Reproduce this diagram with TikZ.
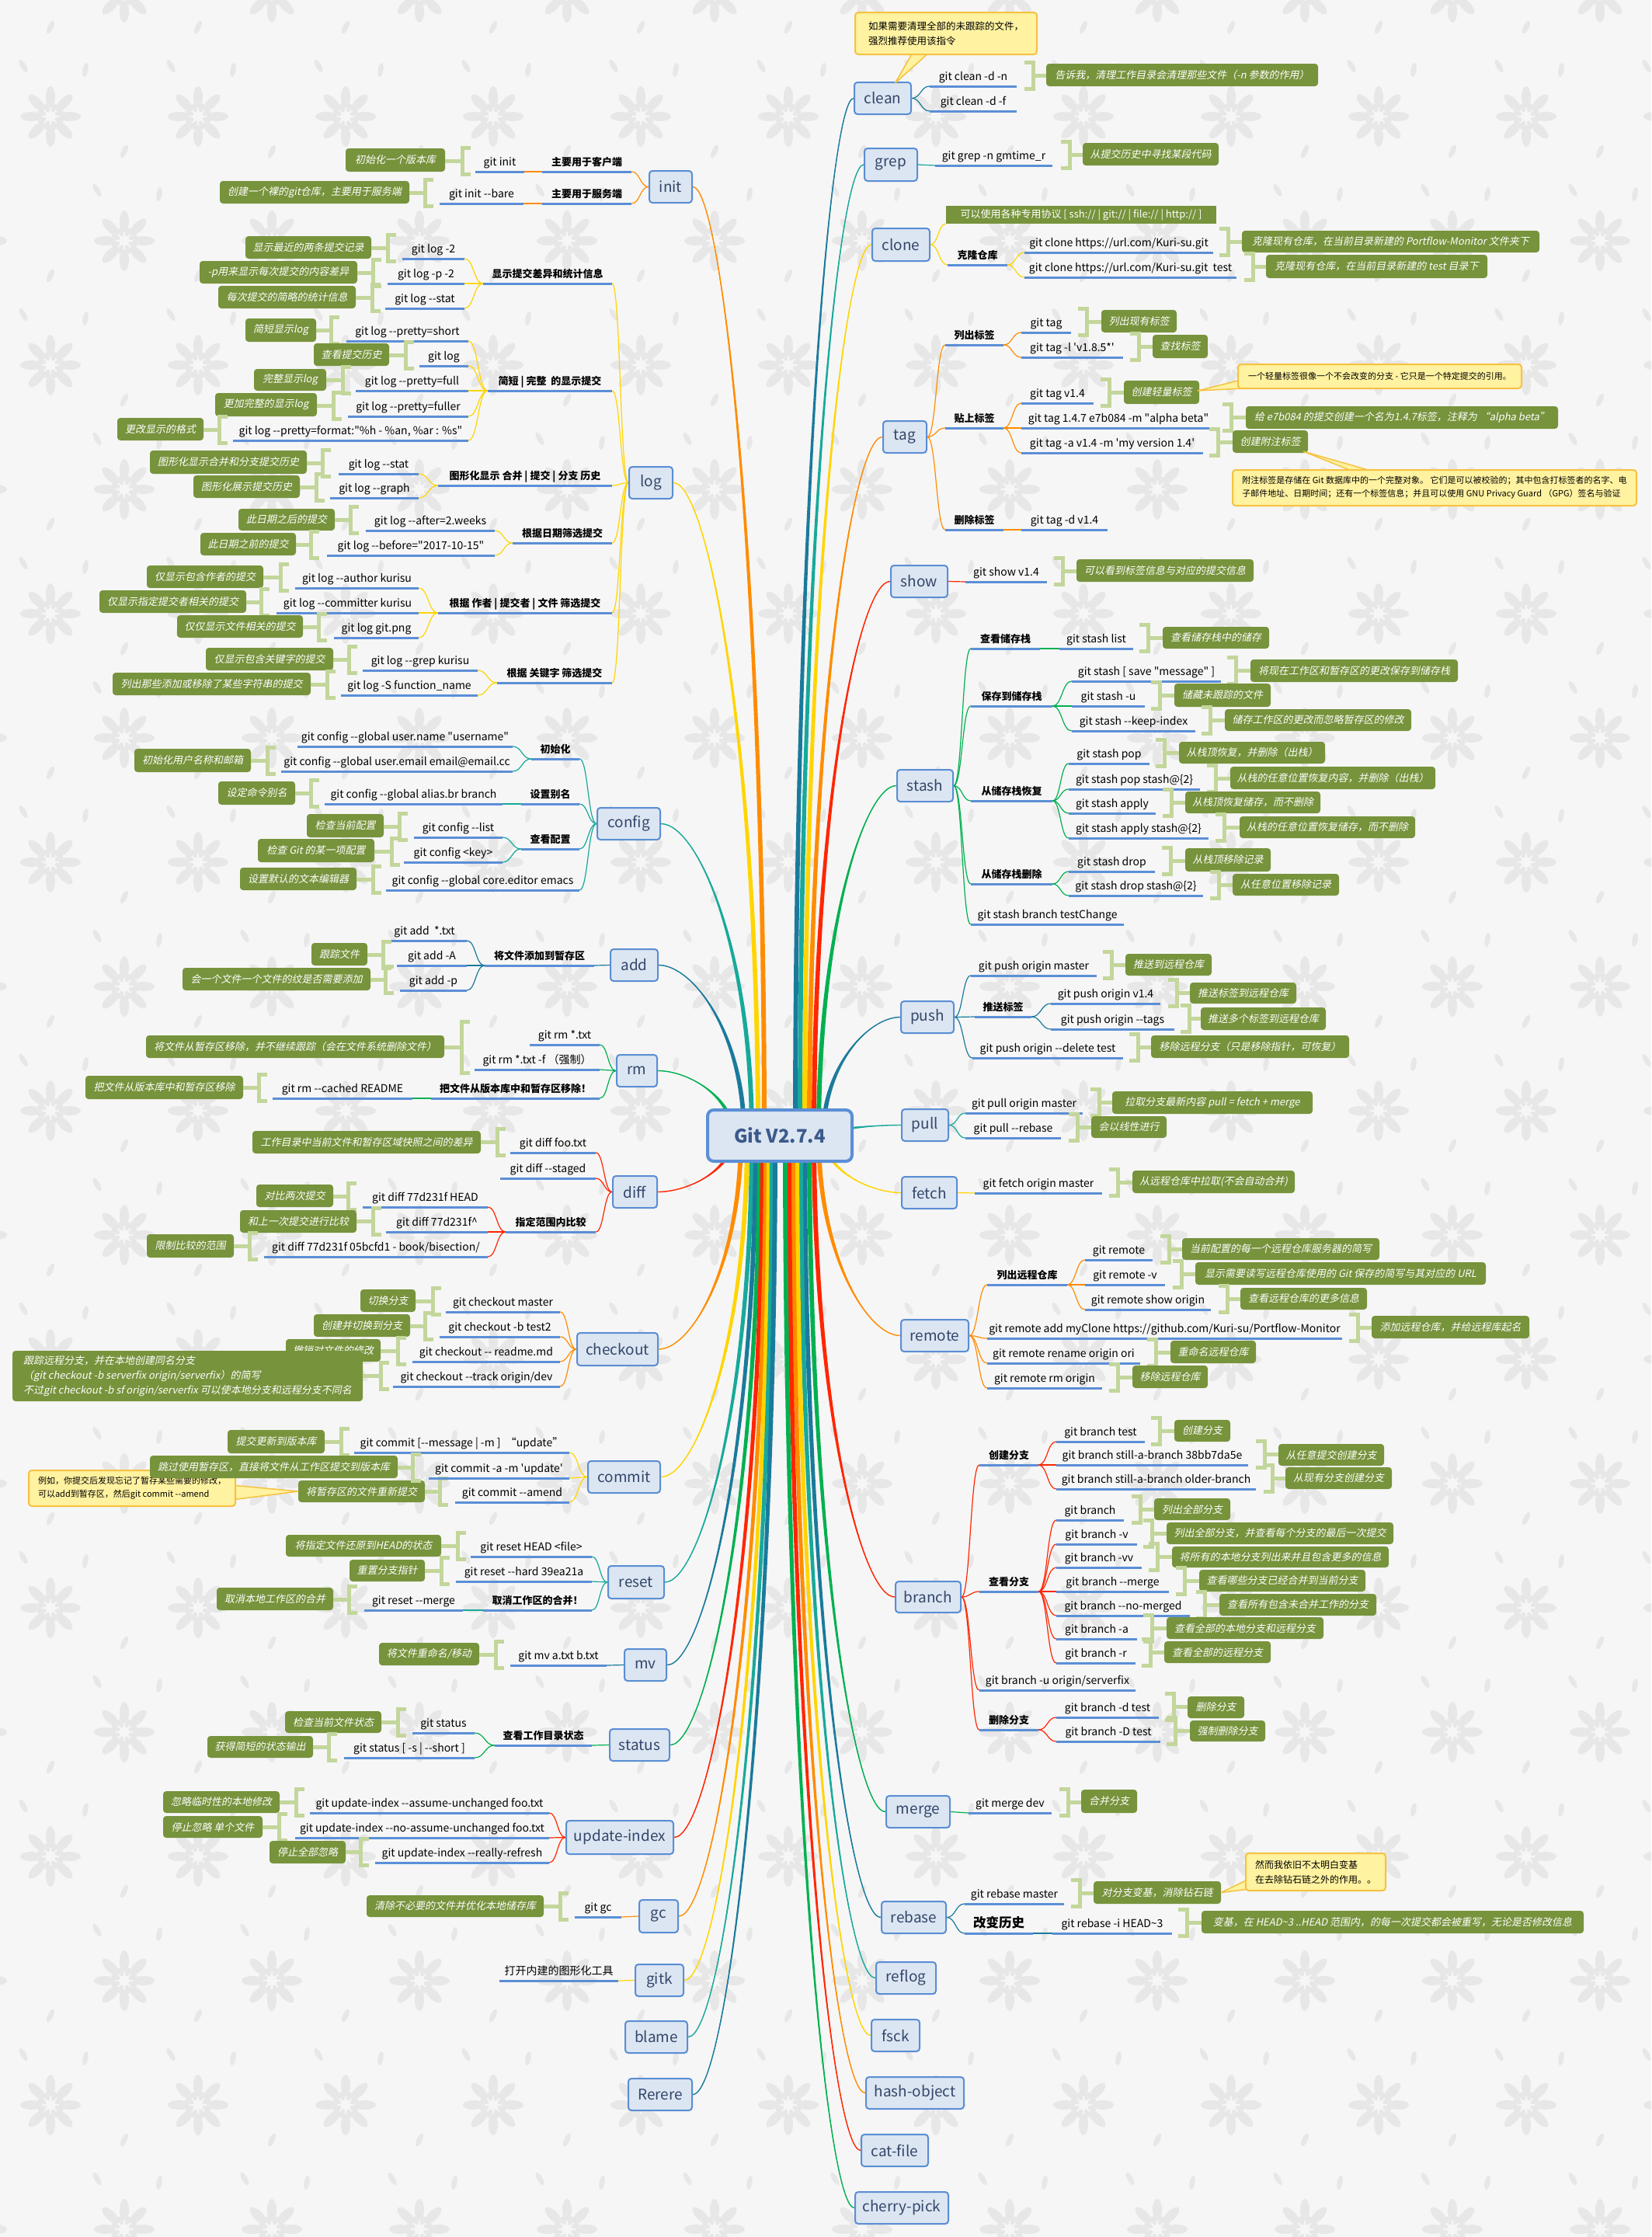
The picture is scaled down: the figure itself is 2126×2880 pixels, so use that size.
\documentclass[tikz,border=0pt]{standalone}
\usepackage{fontspec}
\newfontfamily\mainf{Noto Sans CJK SC}
\newfontfamily\itf{Noto Sans CJK SC}[FakeSlant=0.2]
\usetikzlibrary{calc}
\pgfdeclarelayer{back}
\pgfdeclarelayer{bg}
\pgfsetlayers{back,bg,main}
\definecolor{bgc}{HTML}{F6F6F6}
\definecolor{pat}{HTML}{E7E7E7}
\definecolor{ulb}{HTML}{5B8FD7}
\definecolor{gfill}{HTML}{77933C}
\definecolor{brg}{HTML}{C3D69B}
\definecolor{boxf}{HTML}{DCE6F2}
\definecolor{boxb}{HTML}{5A8ED4}
\definecolor{boxt}{HTML}{34466A}
\definecolor{rootb}{HTML}{5B8FD5}
\definecolor{roott}{HTML}{3B5A8C}
\definecolor{yfill}{HTML}{FFF2A0}
\definecolor{ybord}{HTML}{F5C242}
\definecolor{cor}{HTML}{FF8C00}
\definecolor{cye}{HTML}{FFD500}
\definecolor{cte}{HTML}{17A99A}
\definecolor{cdt}{HTML}{1A7A9C}
\definecolor{cgr}{HTML}{00B050}
\definecolor{cre}{HTML}{FF2600}
\newcommand\fsA{\fontsize{14}{16}\selectfont}
\newcommand\fsB{\fontsize{13}{16}\selectfont}
\newcommand\TP[6][tp]{\node[#1,minimum width={#4-#3}] (#2) at ({(#3+#4)/2},#5) {#6};\draw[ul] (#2.south west) -- (#2.south east);}
\newcommand\GN[6]{\node[gn,minimum width={#3-#2},minimum height={#5-#4}] (#1) at ({(#2+#3)/2},{(#4+#5)/2}) {#6};}
\newcommand\LB[6]{\node[lone,minimum width=#4,minimum height=#5] (#1) at (#2,#3) {#6};}
\newcommand\BLc[3]{\draw[br] ({#1},{#2-31}) -- ({#1-11},{#2-31}) -- ({#1-11},{#2+3}) -- ({#1},{#2+3}); \draw[br] ({#1-11},{#2-14}) -- ({#3},{#2-14});}
\newcommand\BRc[3]{\draw[br] ({#1},{#2-31}) -- ({#1+11},{#2-31}) -- ({#1+11},{#2+3}) -- ({#1},{#2+3}); \draw[br] ({#1+11},{#2-14}) -- ({#3},{#2-14});}
\newcommand\CL[3]{\draw[#1,cn] let \p1=(#2), \p2=(#3) in (\p1) .. controls ($(\p1)!0.5!(\x2,\y1)$) and ($(\p2)!0.5!(\x1,\y2)$) .. (\p2);}
\newcommand\FanL[3]{\foreach \cc in {#3}{\CL{#1}{#2}{\cc.south east}}}
\newcommand\FanR[3]{\foreach \cc in {#3}{\CL{#1}{#2}{\cc.south west}}}
\newcommand\CB[7]{\fill[#1] ($(root.center)+({#2-#6},{-#7})$) .. controls +(0,#4) and +(#5,0) .. (#3) .. controls +(#5,0) and +(0,#4) .. ($(root.center)+({#2+#6},{#7})$) -- cycle; \draw[#1,line width=1.4pt] ($(root.center)+(#2,0)$) .. controls +(0,#4) and +(#5,0) .. (#3);}
\tikzset{
 tp/.style={inner xsep=0pt,inner ysep=4pt,anchor=south,text height=11pt,text depth=3pt,font=\mainf\fsA},
 tb/.style={tp,font=\mainf\bfseries\fsB},
 ul/.style={draw=ulb,line width=3pt},
 gn/.style={fill=gfill,rounded corners=4pt,text=white,font=\itf\fsB,inner sep=0pt},
 lone/.style={draw=boxb,line width=2pt,fill=boxf,rounded corners=4pt,font=\mainf\fontsize{19}{22}\selectfont,text=boxt,inner sep=0pt},
 br/.style={draw=brg,line width=5pt},
 cn/.style={line width=1.2pt},
 yc/.style={fill=yfill,draw=ybord,line width=2pt,rounded corners=4pt,align=left,inner sep=0pt,text=black},
 yp/.style={fill=yfill,draw=ybord,line width=1.5pt,line join=round},
}
\begin{document}
\begin{tikzpicture}[x=1pt,y=-1pt]
\begin{pgfonlayer}{back}
\fill[bgc] (0,0) rectangle (2126,2880);
\begin{scope}
\clip (0,0) rectangle (2126,2880);
\foreach \r in {0,...,18}{
 \foreach \c in {0,...,11}{
  \pgfmathsetmacro\cx{\c*190+mod(\r,2)*95-30}
  \pgfmathsetmacro\cy{\r*160-10}
  \foreach \a in {0,45,...,315}{
   \fill[pat,rotate around={\a:(\cx,\cy)}] ({\cx+25},\cy) ellipse (14 and 6);
   \fill[pat,rotate around={\a+22.5:(\cx,\cy)}] ({\cx+12},\cy) ellipse (6 and 3);
  }
  \fill[pat,rotate around={65:({\cx+95},{\cy+45})}] ({\cx+95},{\cy+45}) ellipse (9 and 3.5);
  \fill[pat,rotate around={-60:({\cx+60},{\cy+95})}] ({\cx+60},{\cy+95}) ellipse (9 and 3.5);
  \fill[pat,rotate around={80:({\cx+140},{\cy+100})}] ({\cx+140},{\cy+100}) ellipse (9 and 3.5);
 }
}
\end{scope}
\end{pgfonlayer}
\useasboundingbox (0,0) rectangle (2126,2880);

\node[draw=rootb,line width=4pt,fill=boxf,rounded corners=8pt,minimum width=186,minimum height=66,font=\mainf\bfseries\fontsize{24}{28}\selectfont,text=roott] (root) at (1004,1462) {Git V2.7.4};

% level-1 boxes
\LB{init}{863.5}{240.5}{55}{41}{init}
\LB{log}{838}{621.5}{56}{41}{log}
\LB{config}{809.5}{1060.5}{81}{41}{config}
\LB{add}{816.5}{1242.5}{61}{41}{add}
\LB{rm}{820}{1378.5}{52}{41}{rm}
\LB{diff}{817.5}{1534.5}{57}{41}{diff}
\LB{checkout}{795}{1737}{104}{42}{checkout}
\LB{commit}{803.5}{1901.5}{93}{41}{commit}
\LB{reset}{819}{2037}{72}{42}{reset}
\LB{mv}{831}{2143.5}{54}{41}{mv}
\LB{status}{823.5}{2246.5}{77}{41}{status}
\LB{updidx}{798}{2365.5}{138}{43}{update-index}
\LB{gc}{848}{2467}{50}{42}{gc}
\LB{gitk}{849}{2549.5}{62}{41}{gitk}
\LB{blame}{845}{2622.5}{80}{41}{blame}
\LB{rerere}{850}{2696.5}{82}{41}{Rerere}
\LB{clean}{1136.5}{126.5}{73}{41}{clean}
\LB{grep}{1147}{212}{68}{42}{grep}
\LB{clone}{1160}{315}{74}{42}{clone}
\LB{tag}{1165}{562.5}{56}{41}{tag}
\LB{show}{1183.5}{748.5}{73}{41}{show}
\LB{stash}{1191}{1011.5}{72}{41}{stash}
\LB{push}{1194}{1309.5}{68}{41}{push}
\LB{pull}{1191}{1448.5}{60}{41}{pull}
\LB{fetch}{1196.5}{1535.5}{71}{41}{fetch}
\LB{remote}{1203.5}{1719.5}{87}{41}{remote}
\LB{branch}{1195}{2056}{84}{40}{branch}
\LB{merge}{1182}{2332.5}{82}{41}{merge}
\LB{rebase}{1176.5}{2468.5}{83}{41}{rebase}
\LB{reflog}{1166.5}{2546.5}{77}{41}{reflog}
\LB{fsck}{1153}{2620.5}{62}{41}{fsck}
\LB{hashobj}{1178}{2694.5}{126}{41}{hash-object}
\LB{catfile}{1152}{2768.5}{86}{41}{cat-file}
\LB{cherry}{1161}{2842.5}{120}{41}{cherry-pick}

% ---------- init
\TP[tb]{i1}{698}{813}{221}{主要用于客户端}
\TP{i1a}{612}{675}{221}{git init}
\GN{i1an}{445}{573}{191}{221}{初始化一个版本库}
\BLc{606}{221}{573}
\TP[tb]{i2}{698}{813}{262}{主要用于服务端}
\TP{i2a}{566}{674}{262}{git init --bare}
\GN{i2an}{283}{527}{233}{262}{创建一个裸的git仓库，主要用于服务端}
\BLc{558}{262}{527}

% ---------- log
\TP[tb]{l1}{622}{788}{365}{显示提交差异和统计信息}
\TP{l1a}{518}{598}{333}{git log -2}
\GN{l1an}{316}{478}{304}{333}{显示最近的两条提交记录}
\BLc{510}{333}{478}
\TP{l1b}{499}{598}{365}{git log -p -2}
\GN{l1bn}{257}{460}{336}{365}{-p用来显示每次提交的内容差异}
\BLc{491}{365}{460}
\TP{l1c}{496}{598}{397}{git log --stat}
\GN{l1cn}{281}{458}{368}{397}{每次提交的简略的统计信息}
\BLc{490}{397}{458}
\TP[tb]{l2}{628}{788}{503}{简短 | 完整 \ 的显示提交}
\TP{l2a}{446}{603}{439}{git log --pretty=short}
\GN{l2an}{316}{407}{410}{440}{简短显示log}
\BLc{437}{439}{407}
\TP{l2b}{540}{603}{471}{git log}
\GN{l2bn}{404}{501}{442}{471}{查看提交历史}
\BLc{533}{471}{501}
\TP{l2c}{458}{603}{503}{git log --pretty=full}
\GN{l2cn}{327}{420}{475}{503}{完整显示log}
\BLc{452}{503}{420}
\TP{l2d}{448}{603}{536}{git log --pretty=fuller}
\GN{l2dn}{277}{408}{506}{536}{更加完整的显示log}
\BLc{440}{536}{408}
\TP{l2e}{300}{603}{567}{git log --pretty=format:"\%h - \%an, \%ar : \%s"}
\GN{l2en}{151}{262}{538}{567}{更改显示的格式}
\BLc{293}{567}{262}
\TP[tb]{l3}{564}{788}{625}{图形化显示 合并 | 提交 | 分支 历史}
\TP{l3a}{436}{539}{610}{git log --stat}
\GN{l3an}{193}{395}{580}{610}{图形化显示合并和分支提交历史}
\BLc{426}{610}{395}
\TP{l3b}{425}{539}{641}{git log --graph}
\GN{l3bn}{249}{386}{612}{641}{图形化展示提交历史}
\BLc{418}{641}{386}
\TP[tb]{l4}{660}{788}{699}{根据日期筛选提交}
\TP{l4a}{471}{637}{683}{git log --after=2.weeks}
\GN{l4an}{307}{431}{655}{683}{此日期之后的提交}
\BLc{462}{683}{431}
\TP{l4b}{421}{637}{715}{git log --before="2017-10-15"}
\GN{l4bn}{258}{381}{686}{715}{此日期之前的提交}
\BLc{411}{715}{381}
\TP[tb]{l5}{564}{788}{789}{根据 作者 | 提交者 | 文件 筛选提交}
\TP{l5a}{380}{539}{757}{git log --author kurisu}
\GN{l5an}{189}{339}{728}{757}{仅显示包含作者的提交}
\BLc{372}{757}{339}
\TP{l5b}{356}{539}{789}{git log --committer kurisu}
\GN{l5bn}{128}{317}{760}{789}{仅显示指定提交者相关的提交}
\BLc{347}{789}{317}
\TP{l5c}{430}{539}{821}{git log git.png}
\GN{l5cn}{228}{390}{792}{821}{仅仅显示文件相关的提交}
\BLc{421}{821}{390}
\TP[tb]{l6}{640}{788}{879}{根据 关键字 筛选提交}
\TP{l6a}{467}{615}{863}{git log --grep kurisu}
\GN{l6an}{265}{429}{834}{863}{仅显示包含关键字的提交}
\BLc{460}{863}{429}
\TP{l6b}{439}{615}{895}{git log -S function\_name}
\GN{l6bn}{145}{400}{866}{895}{列出那些添加或移除了某些字符串的提交}
\BLc{432}{895}{400}

% ---------- config
\TP[tb]{c1}{684}{746}{977}{初始化}
\TP{c1a}{383}{660}{961}{git config --global user.name "username"}
\TP{c1b}{362}{660}{993}{git config --global user.email email@email.cc}
\GN{c1bn}{173}{323}{964}{994}{初始化用户名称和邮箱}
\BLc{355}{993}{323}
\TP[tb]{c2}{671}{746}{1035}{设置别名}
\TP{c2a}{418}{647}{1035}{git config --global alias.br branch}
\GN{c2an}{281}{380}{1006}{1036}{设定命令别名}
\BLc{411}{1035}{380}
\TP[tb]{c3}{671}{746}{1093}{查看配置}
\TP{c3a}{533}{647}{1078}{git config --list}
\GN{c3an}{395}{494}{1048}{1078}{检查当前配置}
\BLc{525}{1078}{494}
\TP{c3b}{520}{647}{1110}{git config <key>}
\GN{c3bn}{332}{482}{1080}{1110}{检查 Git 的某一项配置}
\BLc{515}{1110}{482}
\TP{c4}{497}{746}{1146}{git config --global core.editor emacs}
\GN{c4n}{309}{459}{1117}{1146}{设置默认的文本编辑器}
\BLc{491}{1146}{459}

% ---------- add
\TP[tb]{a1}{624}{765}{1243}{将文件添加到暂存区}
\TP{a1a}{492}{601}{1211}{git add \ *.txt}
\TP{a1b}{511}{601}{1243}{git add -A}
\GN{a1bn}{401}{473}{1214}{1243}{跟踪文件}
\BLc{504}{1243}{473}
\TP{a1c}{515}{601}{1275}{git add -p}
\GN{a1cn}{235}{477}{1246}{1275}{会一个文件一个文件的纹是否需要添加}
\BLc{507}{1275}{477}

% ---------- rm
\TP{r1}{682}{772}{1345}{git rm *.txt}
\TP{r2}{611}{772}{1377}{git rm *.txt -f （强制）}
\GN{r1n}{188}{572}{1333}{1362}{将文件从暂存区移除，并不继续跟踪（会在文件系统删除文件）}
\draw[br] (605,1315) -- (594,1315) -- (594,1381) -- (605,1381);
\draw[br] (594,1348) -- (572,1348);
\TP[tb]{r3}{555}{772}{1414}{把文件从版本库中和暂存区移除！}
\TP{r3a}{351}{531}{1414}{git rm --cached README}
\GN{r3an}{110}{313}{1385}{1415}{把文件从版本库中和暂存区移除}
\BLc{344}{1414}{313}

% ---------- diff
\TP{d1}{657}{767}{1484}{git diff foo.txt}
\GN{d1n}{325}{619}{1456}{1485}{工作目录中当前文件和暂存区域快照之间的差异}
\BLc{651}{1484}{619}
\TP{d2}{644}{767}{1517}{git diff --staged}
\TP[tb]{d3}{651}{767}{1586}{指定范围内比较}
\TP{d3a}{467}{628}{1554}{git diff 77d231f HEAD}
\GN{d3an}{330}{429}{1525}{1554}{对比两次提交}
\BLc{459}{1554}{429}
\TP{d3b}{497}{628}{1586}{git diff 77d231f\textasciicircum}
\GN{d3bn}{309}{459}{1558}{1587}{和上一次提交进行比较}
\BLc{491}{1586}{459}
\TP{d3c}{340}{628}{1618}{git diff 77d231f 05bcfd1 - book/bisection/}
\GN{d3cn}{189}{301}{1589}{1619}{限制比较的范围}
\BLc{332}{1618}{301}

% ---------- checkout
\TP{k1}{574}{721}{1689}{git checkout master}
\GN{k1n}{464}{535}{1660}{1689}{切换分支}
\BLc{568}{1689}{535}
\TP{k2}{566}{721}{1721}{git checkout -b test2}
\GN{k2n}{404}{528}{1692}{1721}{创建并切换到分支}
\BLc{558}{1721}{528}
\TP{k3}{531}{721}{1753}{git checkout -- readme.md}
\GN{k3n}{368}{490}{1724}{1753}{撤销对文件的修改}
\BLc{523}{1753}{490}
\TP{k4}{506}{721}{1785}{git checkout --track origin/dev}
\node[gn,minimum width=451,minimum height=65,align=left,font=\itf\fontsize{13}{19}\selectfont] (k4n) at (241.5,1771.5) {跟踪远程分支，并在本地创建同名分支\\（git checkout -b serverfix origin/serverfix）的简写\\不过git checkout -b sf origin/serverfix 可以使本地分支和远程分支不同名};
\BLc{501}{1785}{467}

% ---------- commit
\TP{m3}{586}{733}{1934}{git commit --amend}
\GN{m3n}{384}{547}{1906}{1934}{将暂存区的文件重新提交}
\BLc{577}{1934}{547}
\filldraw[yp] (298,1912) -- (m3n.west) -- (298,1931) -- cycle;
\node[yc,minimum width=266,minimum height=46,font=\mainf\fontsize{11}{17}\selectfont] (mcl) at (170,1916) {例如，你提交后发现忘记了暂存某些需要的修改，\\可以add到暂存区，然后git commit --amend};
\TP{m1}{456}{733}{1870}{git commit [--message | -m ] \ “update”}
\GN{m1n}{293}{418}{1841}{1871}{提交更新到版本库}
\BLc{450}{1870}{418}
\TP{m2}{552}{733}{1903}{git commit -a -m 'update'}
\GN{m2n}{193}{512}{1874}{1903}{跳过使用暂存区，直接将文件从工作区提交到版本库}
\BLc{542}{1903}{512}

% ---------- reset
\TP{s1}{606}{762}{2004}{git reset HEAD <file>}
\GN{s1n}{368}{568}{1976}{2004}{将指定文件还原到HEAD的状态}
\BLc{600}{2004}{568}
\TP{s2}{587}{762}{2036}{git reset --hard 39ea21a}
\GN{s2n}{450}{547}{2008}{2036}{重置分支指针}
\BLc{579}{2036}{547}
\TP[tb]{s3}{622}{762}{2073}{取消工作区的合并！}
\TP{s3a}{469}{596}{2073}{git reset --merge}
\GN{s3an}{279}{429}{2044}{2073}{取消本地工作区的合并}
\BLc{460}{2073}{429}

% ---------- mv
\TP{v1}{657}{781}{2144}{git mv a.txt b.txt}
\GN{v1n}{488}{617}{2115}{2144}{将文件重命名/移动}
\BLc{649}{2144}{617}

% ---------- status
\TP[tb]{t1}{637}{762}{2247}{查看工作目录状态}
\TP{t1a}{531}{611}{2231}{git status}
\GN{t1an}{367}{491}{2203}{2231}{检查当前文件状态}
\BLc{523}{2231}{491}
\TP{t1b}{443}{611}{2263}{git status [ -s | --short ]}
\GN{t1bn}{267}{403}{2235}{2263}{获得简短的状态输出}
\BLc{434}{2263}{403}

% ---------- update-index
\TP{u1}{399}{707}{2334}{git update-index --assume-unchanged foo.txt}
\GN{u1n}{210}{360}{2306}{2334}{忽略临时性的本地修改}
\BLc{392}{2334}{360}
\TP{u2}{380}{707}{2366}{git update-index --no-assume-unchanged foo.txt}
\GN{u2n}{210}{338}{2338}{2366}{停止忽略 单个文件}
\BLc{370}{2366}{338}
\TP{u3}{483}{707}{2398}{git update-index --really-refresh}
\GN{u3n}{347}{445}{2370}{2399}{停止全部忽略}
\BLc{475}{2398}{445}

% ---------- gc, gitk
\TP{g1}{740}{800}{2468}{git gc}
\GN{g1n}{472}{700}{2440}{2468}{清除不必要的文件并优化本地储存库}
\BLc{732}{2468}{700}
\TP{gk1}{643}{796}{2550}{打开内建的图形化工具}

% ---------- clean
\TP{cl1}{1197}{1309}{111}{git clean -d -n}
\GN{cl1n}{1347}{1697}{82}{111}{告诉我，清理工作目录会清理那些文件（-n 参数的作用）}
\BRc{1319}{111}{1347}
\TP{cl2}{1197}{1309}{143}{git clean -d -f}
\filldraw[yp] (1176,66) -- ($(clean.north)+(16,2)$) -- (1198,66) -- cycle;
\node[yc,minimum width=234,minimum height=54,font=\mainf\fontsize{12.5}{19}\selectfont] (ccl) at (1218,43) {如果需要清理全部的未跟踪的文件，\\强烈推荐使用该指令};

% ---------- grep
\TP{gr1}{1204}{1355}{213}{git grep -n gmtime\_r}
\GN{gr1n}{1394}{1569}{184}{213}{从提交历史中寻找某段代码}
\BRc{1366}{213}{1394}

% ---------- clone
\node[fill=gfill,text=white,inner sep=0pt,font=\mainf\fsB,minimum width=348,minimum height=23] (clh) at (1392,276.5) {可以使用各种专用协议 [ ssh:// | git:// | file:// | http:// ]};
\TP[tb]{cn1}{1220}{1297}{341}{克隆仓库}
\TP{cn1a}{1319}{1562}{325}{git clone https://url.com/Kuri-su.git}
\GN{cn1an}{1599}{1982}{297}{325}{克隆现有仓库，在当前目录新建的 Portflow-Monitor 文件夹下}
\BRc{1570}{325}{1599}
\TP{cn1b}{1319}{1592}{357}{git clone https://url.com/Kuri-su.git \ test}
\GN{cn1bn}{1630}{1915}{328}{358}{克隆现有仓库，在当前目录新建的 test 目录下}
\BRc{1602}{357}{1630}

% ---------- tag
\TP[tb]{tg1}{1217}{1292}{444}{列出标签}
\TP{tg1a}{1315}{1379}{428}{git tag}
\GN{tg1an}{1418}{1515}{399}{428}{列出现有标签}
\BRc{1388}{428}{1418}
\TP{tg1b}{1315}{1446}{460}{git tag -l 'v1.8.5*'}
\GN{tg1bn}{1484}{1555}{431}{461}{查找标签}
\BRc{1455}{460}{1484}
\TP[tb]{tg2}{1217}{1292}{551}{贴上标签}
\TP{tg2a}{1315}{1408}{519}{git tag v1.4}
\GN{tg2an}{1447}{1544}{490}{520}{创建轻量标签}
\BRc{1417}{519}{1447}
\TP{tg2b}{1315}{1565}{551}{git tag 1.4.7 e7b084 -m "alpha beta"}
\GN{tg2bn}{1604}{2006}{523}{552}{给 e7b084 的提交创建一个名为1.4.7标签，注释为 “alpha beta”}
\BRc{1574}{551}{1604}
\TP{tg2c}{1315}{1549}{583}{git tag -a v1.4 -m 'my version 1.4'}
\GN{tg2cn}{1587}{1684}{554}{583}{创建附注标签}
\BRc{1557}{583}{1587}
\filldraw[yp] (1602,488) -- ($(tg2an.east)+(-2,-2)$) -- (1622,499) -- cycle;
\node[yc,minimum width=365,minimum height=31,font=\mainf\fontsize{11}{14}\selectfont] (tc1) at (1776.5,484.5) {一个轻量标签很像一个不会改变的分支 - 它只是一个特定提交的引用。};
\filldraw[yp] (1745,608) -- ($(tg2cn.south east)+(-6,-2)$) -- (1772,608) -- cycle;
\node[yc,minimum width=520,minimum height=46,font=\mainf\fontsize{11}{17}\selectfont] (tc2) at (1847,628) {附注标签是存储在 Git 数据库中的一个完整对象。 它们是可以被校验的；其中包含打标签者的名字、电\\子邮件地址、日期时间；还有一个标签信息；并且可以使用 GNU Privacy Guard （GPG）签名与验证};
\TP[tb]{tg3}{1217}{1292}{682}{删除标签}
\TP{tg3a}{1315}{1426}{682}{git tag -d v1.4}

% ---------- show
\TP{sh1}{1243}{1348}{749}{git show v1.4}
\GN{sh1n}{1386}{1614}{720}{749}{可以看到标签信息与对应的提交信息}
\BRc{1357}{749}{1386}

% ---------- stash
\TP[tb]{st1}{1250}{1339}{835}{查看储存栈}
\TP{st1a}{1364}{1459}{835}{git stash list}
\GN{st1an}{1497}{1634}{807}{835}{查看储存栈中的储存}
\BRc{1467}{835}{1497}
\TP[tb]{st2}{1250}{1355}{909}{保存到储存栈}
\TP{st2a}{1380}{1572}{877}{git stash [ save "message" ]}
\GN{st2an}{1610}{1877}{849}{878}{将现在工作区和暂存区的更改保存到储存栈}
\BRc{1580}{877}{1610}
\TP{st2b}{1380}{1474}{909}{git stash -u}
\GN{st2bn}{1512}{1636}{880}{910}{储藏未跟踪的文件}
\BRc{1482}{909}{1512}
\TP{st2c}{1380}{1539}{941}{git stash --keep-index}
\GN{st2cn}{1577}{1817}{913}{941}{储存工作区的更改而忽略暂存区的修改}
\BRc{1547}{941}{1577}
\TP[tb]{st3}{1250}{1355}{1031}{从储存栈恢复}
\TP{st3a}{1376}{1480}{983}{git stash pop}
\GN{st3an}{1518}{1706}{955}{983}{从栈顶恢复，并删除（出栈）}
\BRc{1488}{983}{1518}
\TP{st3b}{1376}{1545}{1016}{git stash pop stash@\{2\}}
\GN{st3bn}{1584}{1848}{987}{1016}{从栈的任意位置恢复内容，并删除（出栈）}
\BRc{1554}{1016}{1584}
\TP{st3c}{1376}{1488}{1047}{git stash apply}
\GN{st3cn}{1526}{1700}{1019}{1047}{从栈顶恢复储存，而不删除}
\BRc{1497}{1047}{1526}
\TP{st3d}{1376}{1556}{1079}{git stash apply stash@\{2\}}
\GN{st3dn}{1596}{1822}{1051}{1079}{从栈的任意位置恢复储存，而不删除}
\BRc{1565}{1079}{1596}
\TP[tb]{st4}{1250}{1355}{1138}{从储存栈删除}
\TP{st4a}{1376}{1487}{1122}{git stash drop}
\GN{st4an}{1526}{1636}{1092}{1122}{从栈顶移除记录}
\BRc{1496}{1122}{1526}
\TP{st4b}{1376}{1549}{1153}{git stash drop stash@\{2\}}
\GN{st4bn}{1587}{1724}{1125}{1153}{从任意位置移除记录}
\BRc{1558}{1153}{1587}
\TP{st5}{1250}{1447}{1190}{git stash branch testChange}

% ---------- push
\TP{p1}{1250}{1412}{1256}{git push origin master}
\GN{p1n}{1449}{1560}{1228}{1256}{推送到远程仓库}
\BRc{1420}{1256}{1449}
\TP[tb]{p2}{1255}{1328}{1309}{推送标签}
\TP{p2a}{1353}{1494}{1292}{git push origin v1.4}
\GN{p2an}{1532}{1669}{1265}{1292}{推送标签到远程仓库}
\BRc{1504}{1292}{1532}
\TP{p2b}{1353}{1512}{1325}{git push origin --tags}
\GN{p2bn}{1546}{1707}{1297}{1326}{推送多个标签到远程仓库}
\BRc{1520}{1325}{1546}
\TP{p3}{1252}{1446}{1362}{git push origin --delete test}
\GN{p3n}{1482}{1737}{1333}{1362}{移除远程分支（只是移除指针，可恢复）}
\BRc{1454}{1362}{1482}

% ---------- pull, fetch
\TP{pl1}{1243}{1394}{1433}{git pull origin master}
\GN{pl1n}{1432}{1690}{1405}{1434}{拉取分支最新内容 pull = fetch + merge}
\BRc{1404}{1433}{1432}
\TP{pl2}{1243}{1366}{1465}{git pull --rebase}
\GN{pl2n}{1405}{1502}{1437}{1465}{会以线性进行}
\BRc{1376}{1465}{1405}
\TP{f1}{1255}{1419}{1536}{git fetch origin master}
\GN{f1n}{1458}{1667}{1507}{1536}{从远程仓库中拉取(不会自动合并)}
\BRc{1428}{1536}{1458}

% ---------- remote
\TP[tb]{re1}{1271}{1374}{1654}{列出远程仓库}
\TP{re1a}{1397}{1484}{1622}{git remote}
\GN{re1an}{1522}{1776}{1594}{1622}{当前配置的每一个远程仓库服务器的简写}
\BRc{1494}{1622}{1522}
\TP{re1b}{1397}{1500}{1654}{git remote -v}
\GN{re1bn}{1539}{1913}{1625}{1654}{显示需要读写远程仓库使用的 Git 保存的简写与其对应的 URL}
\BRc{1510}{1654}{1539}
\TP{re1c}{1397}{1559}{1686}{git remote show origin}
\GN{re1cn}{1597}{1760}{1658}{1686}{查看远程仓库的更多信息}
\BRc{1569}{1686}{1597}
\TP{re2}{1271}{1728}{1723}{git remote add myClone https://github.com/Kuri-su/Portflow-Monitor}
\GN{re2n}{1766}{1969}{1694}{1723}{添加远程仓库，并给远程库起名}
\BRc{1737}{1723}{1766}
\TP{re3}{1271}{1468}{1755}{git remote rename origin ori}
\GN{re3n}{1507}{1617}{1726}{1755}{重命名远程仓库}
\BRc{1477}{1755}{1507}
\TP{re4}{1271}{1419}{1787}{git remote rm origin}
\GN{re4n}{1458}{1555}{1758}{1787}{移除远程仓库}
\BRc{1428}{1787}{1458}

% ---------- branch
\TP[tb]{b1}{1261}{1337}{1886}{创建分支}
\TP{b1a}{1360}{1474}{1856}{git branch test}
\GN{b1an}{1512}{1584}{1828}{1856}{创建分支}
\BRc{1482}{1856}{1512}
\TP{b1b}{1360}{1607}{1886}{git branch still-a-branch 38bb7da5e}
\GN{b1bn}{1646}{1782}{1859}{1887}{从任意提交创建分支}
\BRc{1617}{1886}{1646}
\TP{b1c}{1360}{1617}{1917}{git branch still-a-branch older-branch}
\GN{b1cn}{1655}{1792}{1889}{1917}{从现有分支创建分支}
\BRc{1627}{1917}{1655}
\TP[tb]{b2}{1261}{1337}{2049}{查看分支}
\TP{b2a}{1360}{1447}{1957}{git branch}
\GN{b2an}{1486}{1584}{1929}{1957}{列出全部分支}
\BRc{1457}{1957}{1486}
\TP{b2b}{1360}{1464}{1988}{git branch -v}
\GN{b2bn}{1502}{1794}{1960}{1988}{列出全部分支，并查看每个分支的最后一次提交}
\BRc{1472}{1988}{1502}
\TP{b2c}{1360}{1470}{2018}{git branch -vv}
\GN{b2cn}{1509}{1788}{1991}{2018}{将所有的本地分支列出来并且包含更多的信息}
\BRc{1479}{2018}{1509}
\TP{b2d}{1360}{1505}{2049}{git branch --merge}
\GN{b2dn}{1544}{1758}{2021}{2049}{查看哪些分支已经合并到当前分支}
\BRc{1514}{2049}{1544}
\TP{b2e}{1360}{1532}{2080}{git branch --no-merged}
\GN{b2en}{1570}{1772}{2052}{2080}{查看所有包含未合并工作的分支}
\BRc{1540}{2080}{1570}
\TP{b2f}{1360}{1464}{2110}{git branch -a}
\GN{b2fn}{1502}{1704}{2082}{2110}{查看全部的本地分支和远程分支}
\BRc{1472}{2110}{1502}
\TP{b2g}{1360}{1462}{2141}{git branch -r}
\GN{b2gn}{1499}{1636}{2113}{2141}{查看全部的远程分支}
\BRc{1470}{2141}{1499}
\TP{b3}{1261}{1462}{2176}{git branch -u origin/serverfix}
\TP[tb]{b4}{1261}{1337}{2227}{删除分支}
\TP{b4a}{1360}{1492}{2211}{git branch -d test}
\GN{b4an}{1529}{1602}{2184}{2212}{删除分支}
\BRc{1500}{2211}{1529}
\TP{b4b}{1360}{1494}{2242}{git branch -D test}
\GN{b4bn}{1532}{1629}{2215}{2242}{强制删除分支}
\BRc{1502}{2242}{1532}

% ---------- merge, rebase
\TP{mg1}{1247}{1354}{2334}{git merge dev}
\GN{mg1n}{1392}{1464}{2304}{2334}{合并分支}
\BRc{1364}{2334}{1392}
\TP{rb1}{1242}{1370}{2451}{git rebase master}
\GN{rb1n}{1408}{1572}{2422}{2451}{对分支变基，消除钻石链}
\BRc{1379}{2451}{1408}
\filldraw[yp] (1608,2419) -- (rb1n.east) -- (1608,2432) -- cycle;
\node[yc,minimum width=180,minimum height=48,font=\mainf\fontsize{12}{19}\selectfont] (rbc) at (1694,2410) {然而我依旧不太明白变基\\在去除钻石链之外的作用。。};
\TP[tb,font=\mainf\bfseries\fontsize{16.5}{18}\selectfont]{rb2}{1242}{1330}{2489}{改变历史}
\TP{rb2a}{1355}{1509}{2489}{git rebase -i HEAD\textasciitilde3}
\GN{rb2an}{1547}{2039}{2460}{2489}{变基，在 HEAD\textasciitilde3 ..HEAD 范围内，的每一次提交都会被重写，无论是否修改信息}
\BRc{1517}{2489}{1547}

% ================= connectors
\begin{pgfonlayer}{bg}
\CB{cor}{-20}{init.east}{-733}{37}{3}{0}
\CB{cye}{-28}{log.east}{-504}{44}{3}{0}
\CB{cte}{-36}{config.east}{-241}{47}{3}{0}
\CB{cdt}{-46}{add.east}{-132}{44}{3}{0}
\CB{cgr}{-60}{rm.east}{-50}{39}{3}{0}
\CB{cre}{-60}{diff.east}{44}{39}{3}{0}
\CB{cor}{-50}{checkout.east}{165}{43}{3}{0}
\CB{cye}{-42}{commit.east}{264}{45}{3}{0}
\CB{cte}{-36}{reset.east}{345}{45}{3}{0}
\CB{cdt}{-31}{mv.east}{409}{46}{3}{0}
\CB{cgr}{-26}{status.east}{471}{46}{3}{0}
\CB{cre}{-22}{updidx.east}{542}{46}{3}{0}
\CB{cor}{-18}{gc.east}{603}{45}{3}{0}
\CB{cye}{-14}{gitk.east}{652}{44}{3}{0}
\CB{cte}{-10}{blame.east}{696}{44}{3}{0}
\CB{cdt}{-6}{rerere.east}{741}{43}{3}{0}
\CB{cdt}{20}{clean.west}{-801}{-30}{3}{0}
\CB{cte}{26}{grep.west}{-750}{-33}{3}{0}
\CB{cye}{32}{clone.west}{-688}{-35}{3}{0}
\CB{cor}{38}{tag.west}{-540}{-38}{3}{0}
\CB{cre}{44}{show.west}{-428}{-40}{3}{0}
\CB{cgr}{50}{stash.west}{-270}{-40}{3}{0}
\CB{cdt}{56}{push.west}{-91}{-40}{3}{0}
\CB{cte}{60}{pull.west}{-8}{-39}{0}{3}
\CB{cye}{56}{fetch.west}{44}{-40}{3}{0}
\CB{cor}{50}{remote.west}{155}{-42}{3}{0}
\CB{cre}{44}{branch.west}{356}{-42}{3}{0}
\CB{cgr}{38}{merge.west}{522}{-40}{3}{0}
\CB{cdt}{32}{rebase.west}{604}{-40}{3}{0}
\CB{cte}{27}{reflog.west}{651}{-39}{3}{0}
\CB{cye}{22}{fsck.west}{695}{-38}{3}{0}
\CB{cor}{17}{hashobj.west}{740}{-38}{3}{0}
\CB{cre}{12}{catfile.west}{784}{-37}{3}{0}
\CB{cgr}{7}{cherry.west}{828}{-36}{3}{0}
% left subtrees
\FanL{cor}{init.west}{i1,i2}
\CL{cor}{i1.south west}{i1a.south east}
\CL{cor}{i2.south west}{i2a.south east}
\FanL{cye}{log.west}{l1,l2,l3,l4,l5,l6}
\FanL{cye}{l1.south west}{l1a,l1b,l1c}
\FanL{cye}{l2.south west}{l2a,l2b,l2c,l2d,l2e}
\FanL{cye}{l3.south west}{l3a,l3b}
\FanL{cye}{l4.south west}{l4a,l4b}
\FanL{cye}{l5.south west}{l5a,l5b,l5c}
\FanL{cye}{l6.south west}{l6a,l6b}
\FanL{cte}{config.west}{c1,c2,c3,c4}
\FanL{cte}{c1.south west}{c1a,c1b}
\FanL{cte}{c2.south west}{c2a}
\FanL{cte}{c3.south west}{c3a,c3b}
\FanL{cdt}{add.west}{a1}
\FanL{cdt}{a1.south west}{a1a,a1b,a1c}
\FanL{cgr}{rm.west}{r1,r2,r3}
\FanL{cgr}{r3.south west}{r3a}
\FanL{cre}{diff.west}{d1,d2,d3}
\FanL{cre}{d3.south west}{d3a,d3b,d3c}
\FanL{cor}{checkout.west}{k1,k2,k3,k4}
\FanL{cye}{commit.west}{m1,m2,m3}
\FanL{cte}{reset.west}{s1,s2,s3}
\FanL{cte}{s3.south west}{s3a}
\FanL{cdt}{mv.west}{v1}
\FanL{cgr}{status.west}{t1}
\FanL{cgr}{t1.south west}{t1a,t1b}
\FanL{cre}{updidx.west}{u1,u2,u3}
\FanL{cor}{gc.west}{g1}
\FanL{cye}{gitk.west}{gk1}
% right subtrees
\FanR{cdt}{clean.east}{cl1,cl2}
\FanR{cte}{grep.east}{gr1}
\FanR{cye}{clone.east}{clh,cn1}
\FanR{cye}{cn1.south east}{cn1a,cn1b}
\FanR{cor}{tag.east}{tg1,tg2,tg3}
\FanR{cor}{tg1.south east}{tg1a,tg1b}
\FanR{cor}{tg2.south east}{tg2a,tg2b,tg2c}
\FanR{cor}{tg3.south east}{tg3a}
\FanR{cre}{show.east}{sh1}
\FanR{cgr}{stash.east}{st1,st2,st3,st4,st5}
\FanR{cgr}{st1.south east}{st1a}
\FanR{cgr}{st2.south east}{st2a,st2b,st2c}
\FanR{cgr}{st3.south east}{st3a,st3b,st3c,st3d}
\FanR{cgr}{st4.south east}{st4a,st4b}
\FanR{cdt}{push.east}{p1,p2,p3}
\FanR{cdt}{p2.south east}{p2a,p2b}
\FanR{cte}{pull.east}{pl1,pl2}
\FanR{cye}{fetch.east}{f1}
\FanR{cor}{remote.east}{re1,re2,re3,re4}
\FanR{cor}{re1.south east}{re1a,re1b,re1c}
\FanR{cre}{branch.east}{b1,b2,b3,b4}
\FanR{cre}{b1.south east}{b1a,b1b,b1c}
\FanR{cre}{b2.south east}{b2a,b2b,b2c,b2d,b2e,b2f,b2g}
\FanR{cre}{b4.south east}{b4a,b4b}
\FanR{cgr}{merge.east}{mg1}
\FanR{cdt}{rebase.east}{rb1,rb2}
\FanR{cdt}{rb2.south east}{rb2a}
\end{pgfonlayer}
\end{tikzpicture}
\end{document}
